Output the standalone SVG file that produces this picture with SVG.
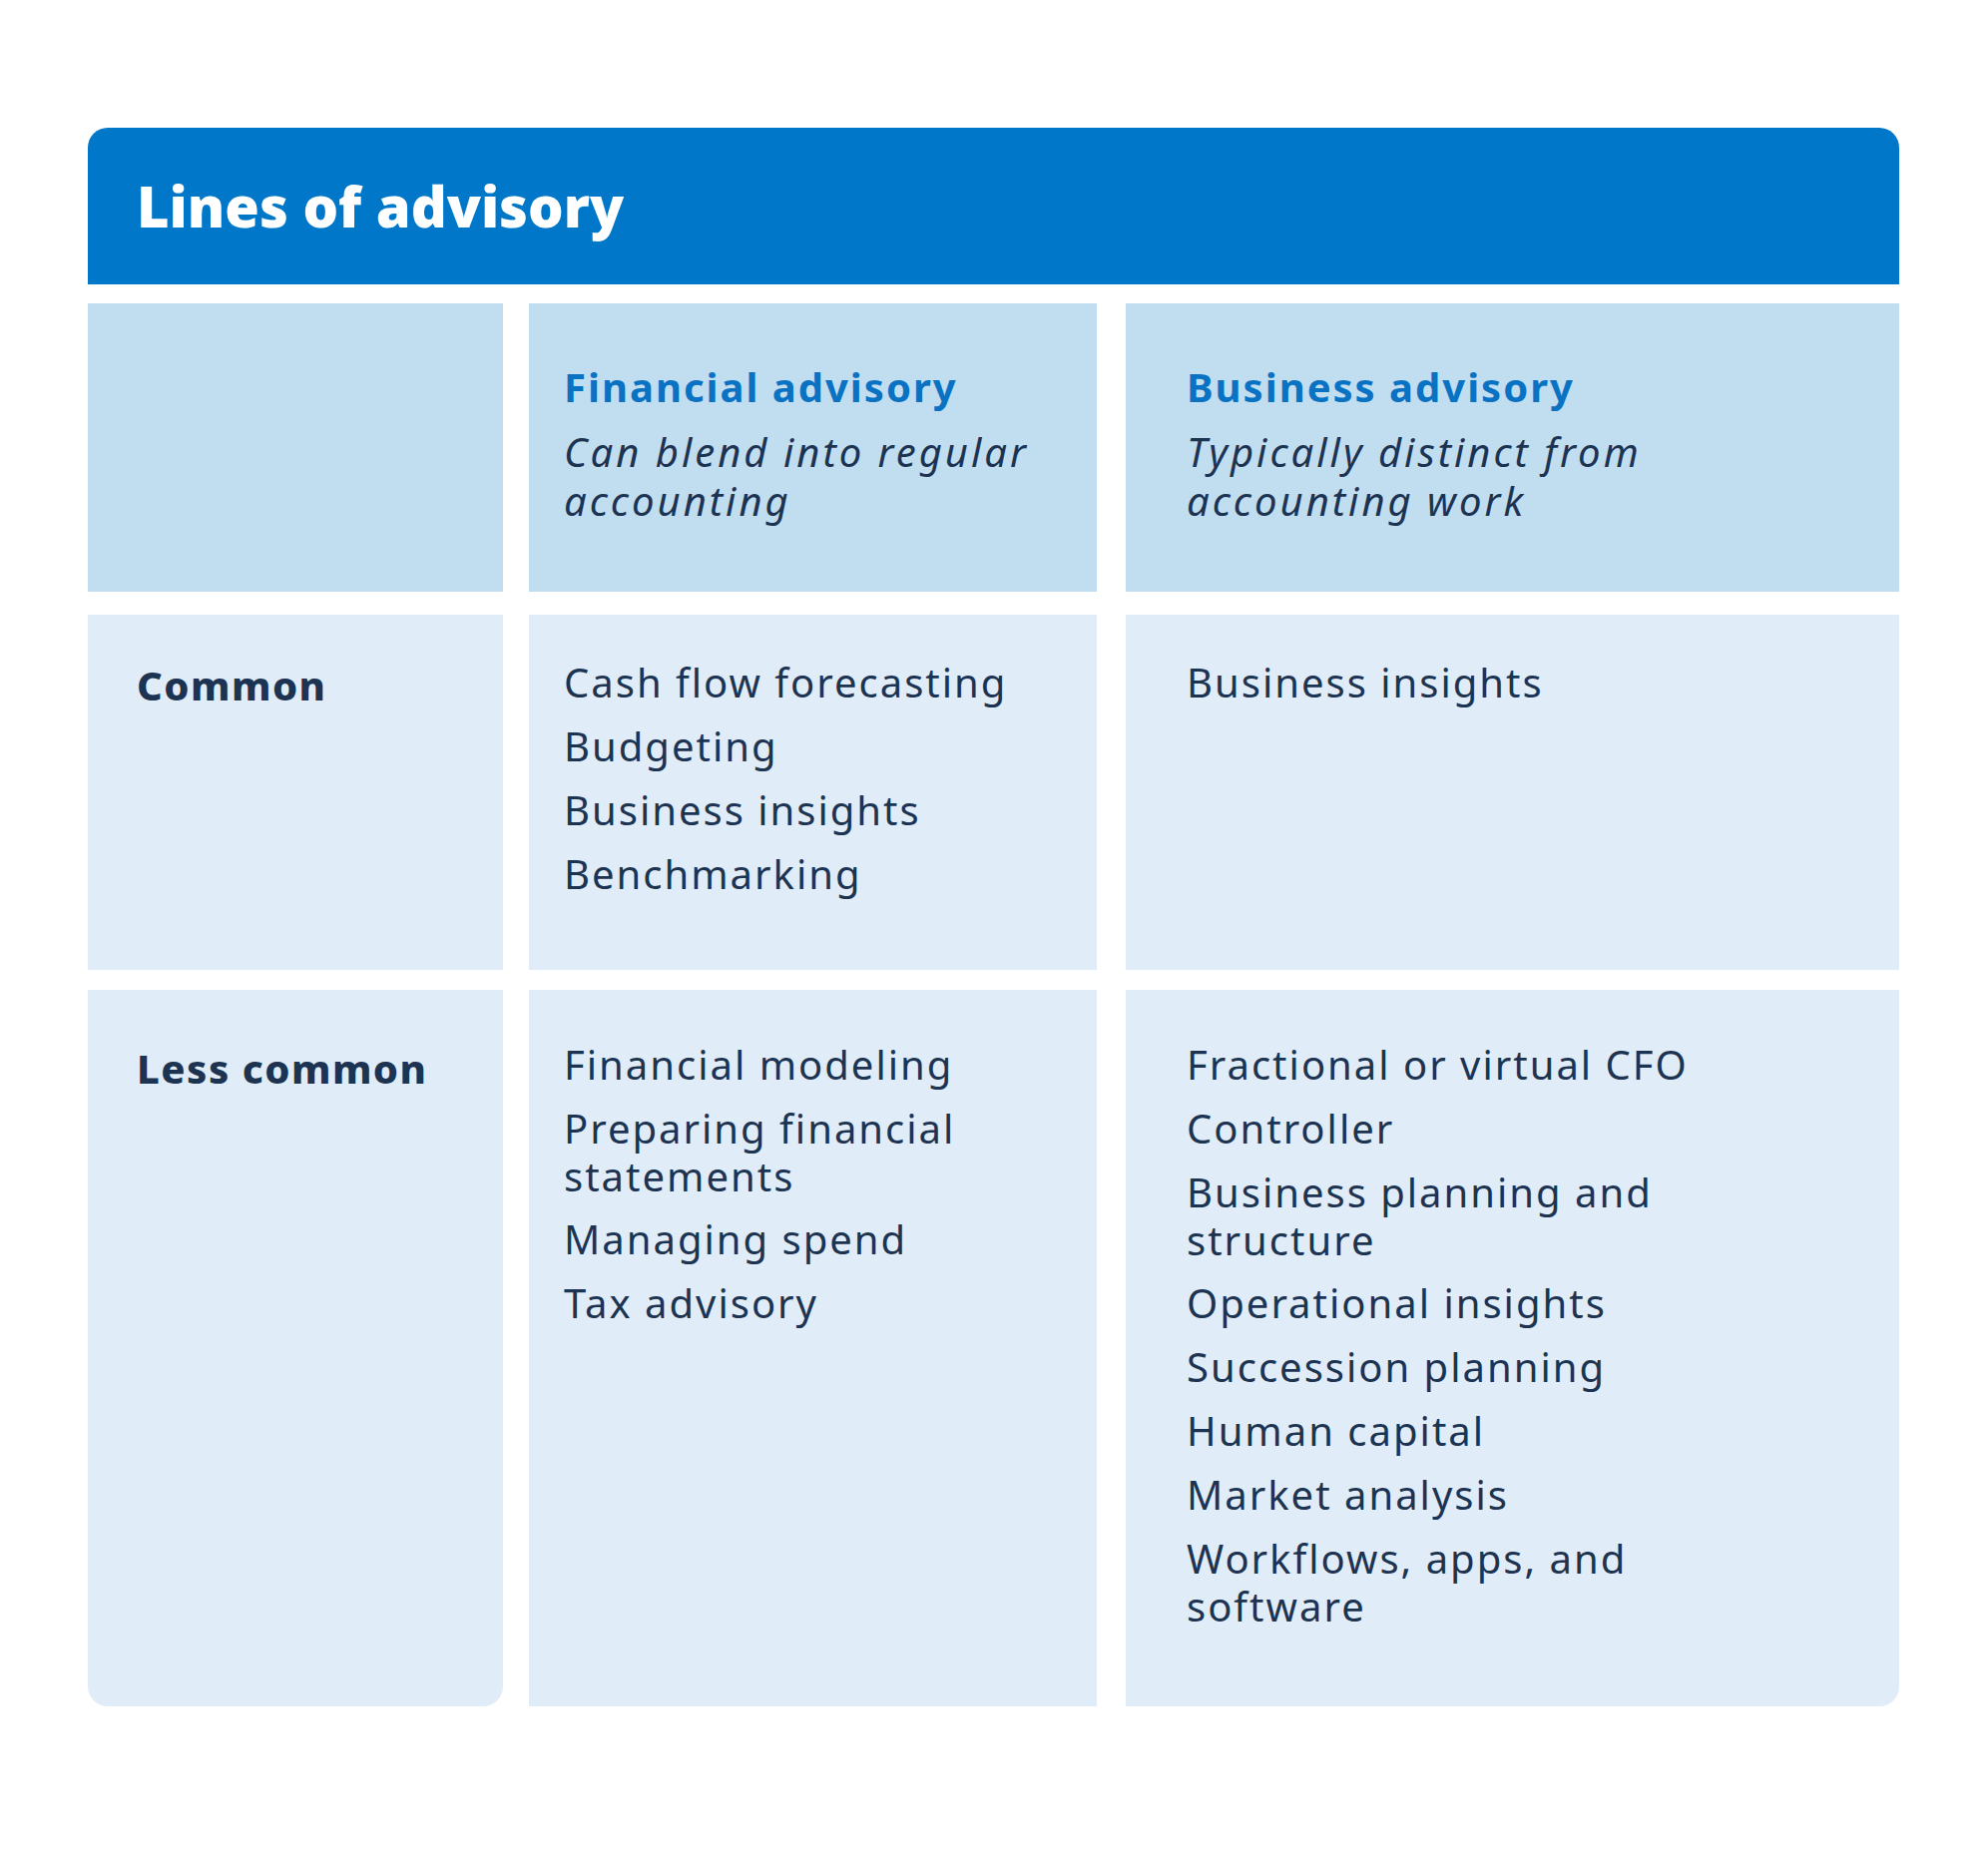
<svg xmlns="http://www.w3.org/2000/svg" width="1992" height="1868" viewBox="0 0 1992 1868">
<style>
text{font-family:"Noto Sans","DejaVu Sans",sans-serif;fill:#1d3352}
.t{font-size:40px;letter-spacing:2px}
.b{font-size:40px;font-weight:800;letter-spacing:1.5px}
.h{font-size:40px;font-weight:700;fill:#0a72c2;letter-spacing:2px}
.i{font-size:40px;font-style:italic;letter-spacing:3px}
.hd{fill:#c1ddf0}.bd{fill:#e0edf8}
</style>
<rect width="1992" height="1868" fill="#fff"/>
<g id="header">
<path d="M88 285V148a20 20 0 0 1 20-20H1883a20 20 0 0 1 20 20V285Z" fill="#0077c8"/>
<text x="137" y="228" style="font-size:56px;font-weight:900;fill:#fff">Lines of advisory</text>
</g>
<g id="head-empty"><rect class="hd" x="88" y="304" width="416" height="289"/></g>
<g id="head-financial"><rect class="hd" x="530" y="304" width="569" height="289"/>
<text class="h" x="565" y="403">Financial advisory</text>
<text class="i" x="565" y="468">Can blend into regular</text>
<text class="i" x="565" y="517">accounting</text></g>
<g id="head-business"><rect class="hd" x="1128" y="304" width="775" height="289"/>
<text class="h" x="1189" y="403">Business advisory</text>
<text class="i" x="1189" y="468">Typically distinct from</text>
<text class="i" x="1189" y="517">accounting work</text></g>
<g id="common-label"><rect class="bd" x="88" y="616" width="416" height="356"/>
<text class="b" x="137" y="702">Common</text></g>
<g id="common-financial"><rect class="bd" x="530" y="616" width="569" height="356"/>
<text class="t" x="565" y="699">Cash flow forecasting</text>
<text class="t" x="565" y="763">Budgeting</text>
<text class="t" x="565" y="827">Business insights</text>
<text class="t" x="565" y="891">Benchmarking</text></g>
<g id="common-business"><rect class="bd" x="1128" y="616" width="775" height="356"/>
<text class="t" x="1189" y="699">Business insights</text></g>
<g id="less-label"><path class="bd" d="M88 992H504V1690a20 20 0 0 1-20 20H108a20 20 0 0 1-20-20Z"/>
<text class="b" x="137" y="1086">Less common</text></g>
<g id="less-financial"><rect class="bd" x="530" y="992" width="569" height="718"/>
<text class="t" x="565" y="1082">Financial modeling</text>
<text class="t" x="565" y="1146">Preparing financial</text>
<text class="t" x="565" y="1194">statements</text>
<text class="t" x="565" y="1257">Managing spend</text>
<text class="t" x="565" y="1321">Tax advisory</text></g>
<g id="less-business"><path class="bd" d="M1128 992H1903V1690a20 20 0 0 1-20 20H1128Z"/>
<text class="t" x="1189" y="1082">Fractional or virtual CFO</text>
<text class="t" x="1189" y="1146">Controller</text>
<text class="t" x="1189" y="1210">Business planning and</text>
<text class="t" x="1189" y="1258">structure</text>
<text class="t" x="1189" y="1321">Operational insights</text>
<text class="t" x="1189" y="1385">Succession planning</text>
<text class="t" x="1189" y="1449">Human capital</text>
<text class="t" x="1189" y="1513">Market analysis</text>
<text class="t" x="1189" y="1577">Workflows, apps, and</text>
<text class="t" x="1189" y="1625">software</text></g>
<g id="connectors"/>
</svg>
